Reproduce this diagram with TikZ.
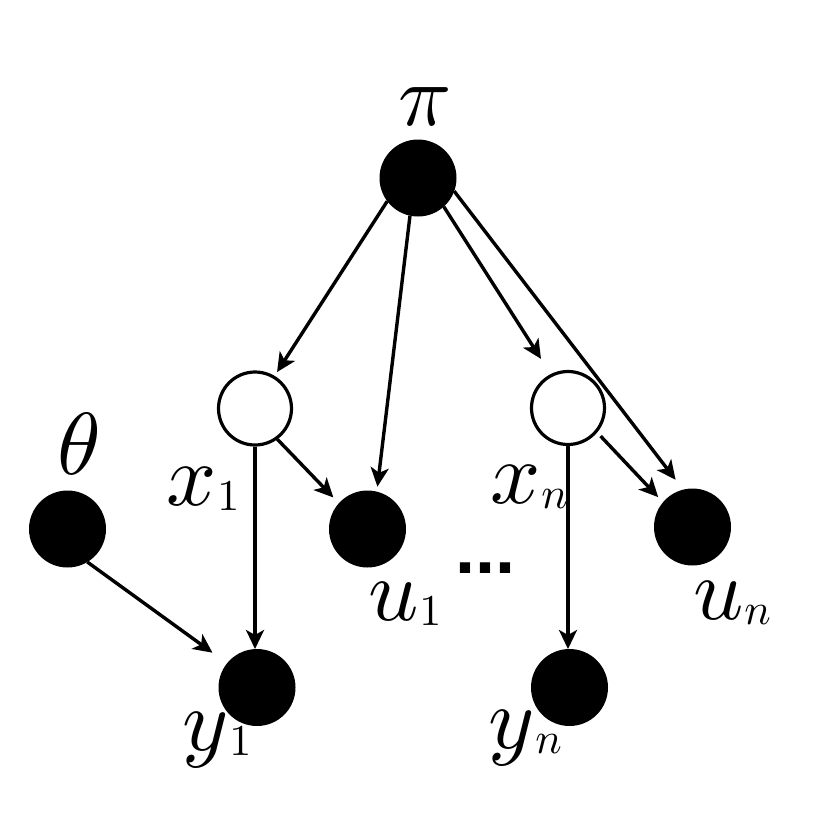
\documentclass[tikz,border=0pt]{standalone}
\usepackage{graphicx}
\usepackage{fontspec}
\setmainfont{Liberation Serif}
\newfontfamily\mydotsfont{Liberation Sans}
\usetikzlibrary{arrows.meta}
\newcommand{\mybig}[1]{\scalebox{8.8}{$#1$}}
\newcommand{\mylab}[2]{\mybig{#1}\hspace{1pt}\raisebox{-5pt}{\scalebox{4.4}{$#2$}}}
\begin{document}
\begin{tikzpicture}[x=1pt,y=-1pt,
  obs/.style={circle,fill=black,minimum size=77pt,inner sep=0pt,outer sep=0pt},
  lat/.style={circle,draw=black,line width=3.2pt,fill=white,minimum size=73pt,inner sep=0pt,outer sep=1.6pt},
  edge/.style={-{Stealth[length=19pt,width=18pt,inset=5pt]},line width=3.4pt},
  lab/.style={anchor=base west,inner sep=0pt,outer sep=0pt}]
\fill[white] (0,0) rectangle (814,820);
\useasboundingbox (0,0) rectangle (814,820);
% nodes
\node[obs] (pi) at (418,178) {};
\node[lat] (x1) at (255,408.5) {};
\node[lat] (xn) at (568,408) {};
\node[obs] (theta) at (67.5,529) {};
\node[obs] (u1) at (367.5,529) {};
\node[obs] (un) at (692.5,527) {};
\node[obs] (y1) at (257,687.5) {};
\node[obs] (yn) at (569.5,687.5) {};
% edges
\draw[edge,shorten >=4.5pt] (pi.-143) -- (x1.59);
\draw[edge,shorten >=5pt] (pi.-102) -- (u1.76);
\draw[edge,shorten >=18pt] (pi.-48) -- (xn.117);
\draw[edge,shorten >=12.5pt] (pi.-20) -- (un.104);
\draw[edge] (x1.south) -- (x1.south |- y1.north);
\draw[edge,shorten >=8pt] (x1.-54) -- (u1.138);
\draw[edge] (xn.south) -- (xn.south |- yn.north);
\draw[edge,shorten <=5pt,shorten >=7pt] (xn.-40) -- (un.140);
\draw[edge,shorten >=18pt] (theta.-59) -- (y1.141);
% labels
\node[lab] (lpi) at (398,125) {\mybig{\pi}};
\node[lab] (ltheta) at (57,474) {\mybig{\theta}};
\node[lab] (lx1) at (166,505) {\mylab{x}{1}};
\node[lab] (lu1) at (368,620) {\mylab{u}{1}};
\node[lab] (ly1) at (182,750) {\mylab{y}{1}};
\node[lab] (lxn) at (490,503) {\mylab{x}{n}};
\node[lab] (lun) at (693,619) {\mylab{u}{n}};
\node[lab] (lyn) at (488,748) {\mylab{y}{n}};
\node[anchor=base west,inner sep=0pt,font=\mydotsfont\bfseries\fontsize{72}{72}\selectfont] (dots) at (455,573) {...};
\end{tikzpicture}
\end{document}
